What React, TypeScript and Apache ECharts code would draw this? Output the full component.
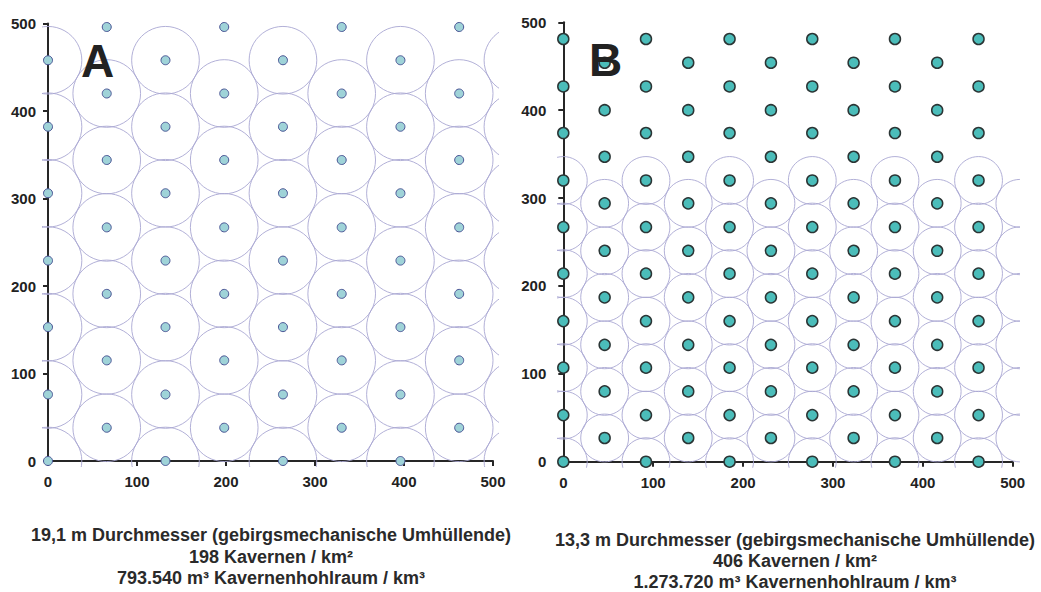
import React, { useEffect, useRef } from 'react';
import * as echarts from 'echarts';

// ---------- Panel A (19,1 m) ----------
const aColsEven = [0, 132, 264, 396];
const aRowsEven = [0, 76, 153, 229, 306, 382, 458];
const aColsOdd = [66, 198, 330, 462];
const aRowsOdd = [38, 115, 191, 267, 344, 420, 496];
const aCircleColsEven = [0, 132, 264, 396, 528];
const aCircleRowsEven = [0, 76, 153, 229, 306, 382, 458];
const aCircleColsOdd = [66, 198, 330, 462];
const aCircleRowsOdd = [38, 115, 191, 267, 344, 420];
const aRadius = 38;

// ---------- Panel B (13,3 m) ----------
const bColsEven = [0, 92, 185, 277, 369, 462];
const bRowsEven = [0, 53, 107, 160, 214, 267, 320, 374, 427, 481];
const bColsOdd = [46, 139, 231, 323, 416];
const bRowsOdd = [27, 80, 133, 187, 240, 294, 347, 400, 454];
const bCircleColsEven = [0, 92, 185, 277, 369, 462];
const bCircleRowsEven = [0, 53, 107, 160, 214, 267, 320];
const bCircleColsOdd = [46, 139, 231, 323, 416, 508];
const bCircleRowsOdd = [27, 80, 133, 187, 240, 294];
const bRadius = 26.6;

const axisMin = 0;
const axisMax = 500;
const axisStep = 100;

const captionA = [
  '19,1 m Durchmesser (gebirgsmechanische Umhüllende)',
  '198 Kavernen / km²',
  '793.540 m³ Kavernenhohlraum / km³',
];
const captionB = [
  '13,3 m Durchmesser (gebirgsmechanische Umhüllende)',
  '406 Kavernen / km²',
  '1.273.720 m³ Kavernenhohlraum / km³',
];

const pairs = (cols: number[], rows: number[]) => {
  const out: number[][] = [];
  cols.forEach((x) => rows.forEach((y) => out.push([x, y])));
  return out;
};

const FONT = 'Liberation Sans, Arial, sans-serif';
const AXIS_COLOR = '#262626';

export default function App() {
  const ref = useRef<HTMLDivElement>(null);

  useEffect(() => {
    if (!ref.current) return;
    const chart = echarts.init(ref.current, undefined, { renderer: 'svg' });

    const mainGrids = [
      { left: 48, top: 23.5, width: 445, height: 437.5, yMargin: 12 },
      { left: 563.3, top: 22.3, width: 449.4, height: 439.4, yMargin: 17 },
    ];
    const pad = 6;

    const grids: any[] = [];
    const xAxes: any[] = [];
    const yAxes: any[] = [];

    mainGrids.forEach((g) => {
      grids.push({ left: g.left, top: g.top, width: g.width, height: g.height, containLabel: false });
      xAxes.push({
        type: 'value', gridIndex: grids.length - 1, min: axisMin, max: axisMax, interval: axisStep,
        splitLine: { show: false },
        axisLine: { show: true, lineStyle: { color: AXIS_COLOR, width: 2 } },
        axisTick: { show: true, length: 5, lineStyle: { color: AXIS_COLOR, width: 2 } },
        axisLabel: { color: '#222', fontSize: 15, fontWeight: 'bold', fontFamily: FONT, margin: 13 },
      });
      yAxes.push({
        type: 'value', gridIndex: grids.length - 1, min: axisMin, max: axisMax, interval: axisStep,
        splitLine: { show: false },
        axisLine: { show: true, lineStyle: { color: AXIS_COLOR, width: 2 } },
        axisTick: { show: true, length: 5, lineStyle: { color: AXIS_COLOR, width: 2 } },
        axisLabel: { color: '#222', fontSize: 15, fontWeight: 'bold', fontFamily: FONT, margin: g.yMargin },
      });
    });
    // expanded clip grids for envelope circles
    mainGrids.forEach((g) => {
      const sx = g.width / (axisMax - axisMin);
      const sy = g.height / (axisMax - axisMin);
      grids.push({ left: g.left - pad, top: g.top - pad, width: g.width + 2 * pad, height: g.height + 2 * pad });
      xAxes.push({ type: 'value', gridIndex: grids.length - 1, min: axisMin - pad / sx, max: axisMax + pad / sx, show: false });
      yAxes.push({ type: 'value', gridIndex: grids.length - 1, min: axisMin - pad / sy, max: axisMax + pad / sy, show: false });
    });

    const circleSeries = (idx: number, data: number[][], radius: number) => ({
      type: 'custom',
      xAxisIndex: idx,
      yAxisIndex: idx,
      clip: true,
      silent: true,
      z: 1,
      data,
      renderItem: (params: any, api: any) => {
        const c = api.coord([api.value(0), api.value(1)]);
        const r = api.size([radius, 0])[0];
        return {
          type: 'circle',
          shape: { cx: c[0], cy: c[1], r },
          style: { fill: 'none', stroke: '#a9a7d2', lineWidth: 0.9 },
        };
      },
    });

    const option: any = {
      animation: false,
      backgroundColor: '#ffffff',
      grid: grids,
      xAxis: xAxes,
      yAxis: yAxes,
      series: [
        circleSeries(2, [...pairs(aCircleColsEven, aCircleRowsEven), ...pairs(aCircleColsOdd, aCircleRowsOdd)], aRadius),
        circleSeries(3, [...pairs(bCircleColsEven, bCircleRowsEven), ...pairs(bCircleColsOdd, bCircleRowsOdd)], bRadius),
        {
          type: 'scatter', xAxisIndex: 0, yAxisIndex: 0, clip: false, z: 5,
          symbol: 'circle', symbolSize: 9,
          itemStyle: { color: '#9fd3d8', borderColor: '#4a5595', borderWidth: 1, opacity: 1 },
          data: [...pairs(aColsEven, aRowsEven), ...pairs(aColsOdd, aRowsOdd)],
        },
        {
          type: 'scatter', xAxisIndex: 1, yAxisIndex: 1, clip: false, z: 5,
          symbol: 'circle', symbolSize: 11,
          itemStyle: { color: '#4bbdba', borderColor: '#2b3535', borderWidth: 1.5, opacity: 1 },
          data: [...pairs(bColsEven, bRowsEven), ...pairs(bColsOdd, bRowsOdd)],
        },
      ],
      graphic: [
        { type: 'text', left: 81, top: 38, z: 10, style: { text: 'A', font: `bold 46px ${FONT}`, fill: '#222' } },
        { type: 'text', left: 589, top: 37, z: 10, style: { text: 'B', font: `bold 46px ${FONT}`, fill: '#222' } },
        ...captionA.map((t, i) => ({
          type: 'text', x: 271, y: 535 + i * 21.5, z: 10,
          style: { text: t, font: `bold 18px ${FONT}`, fill: '#2a2a2a', align: 'center', verticalAlign: 'middle' },
        })),
        ...captionB.map((t, i) => ({
          type: 'text', x: 795, y: 540 + i * 21, z: 10,
          style: { text: t, font: `bold 18px ${FONT}`, fill: '#2a2a2a', align: 'center', verticalAlign: 'middle' },
        })),
      ],
    };

    chart.setOption(option);
    return () => chart.dispose();
  }, []);

  return (
    <div
      ref={ref}
      style={{ position: 'fixed', left: 0, top: 0, width: 1041, height: 592, background: '#fff' }}
    />
  );
}
